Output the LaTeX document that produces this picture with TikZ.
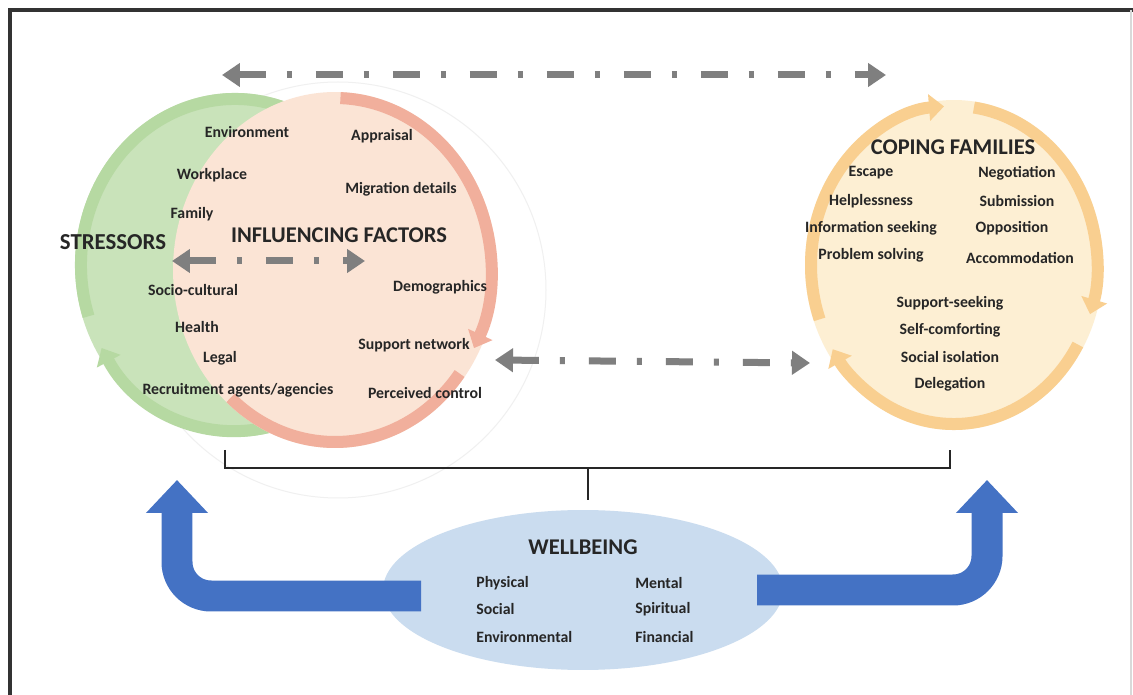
\documentclass[tikz,border=0pt]{standalone}
\usepackage{fontspec}
\setmainfont{Carlito}
\usetikzlibrary{arrows.meta,shapes.geometric}
\definecolor{stressfill}{HTML}{C9E3BA}
\definecolor{stressring}{HTML}{B6D9A2}
\definecolor{inflfill}{HTML}{FBE4D5}
\definecolor{inflring}{HTML}{F1AF9C}
\definecolor{copefill}{HTML}{FDEFD3}
\definecolor{copering}{HTML}{F9CF90}
\definecolor{wellfill}{HTML}{CADCEF}
\definecolor{bigblue}{HTML}{4472C4}
\definecolor{dashgray}{HTML}{7F7F7F}
\definecolor{inkgray}{HTML}{262626}
\tikzset{
	lbl/.style={font=\bfseries\fontsize{9}{10}\selectfont, text=inkgray, inner sep=0pt},
	head/.style={font=\bfseries\fontsize{12.8}{14}\selectfont, text=inkgray, inner sep=0pt},
	ring/.style={line width=0.24cm, line cap=butt},
	ringtip/.style={-{Triangle[length=0.3cm,width=0.52cm]}},
	dashdot/.style={dashgray, line width=0.14cm, dash pattern=on 0.54cm off 0.42cm on 0.1cm off 0.48cm,
		{Triangle[length=0.36cm,width=0.46cm]}-{Triangle[length=0.36cm,width=0.46cm]}},
	bigarrow/.style={bigblue, line width=0.62cm, rounded corners=0.68cm, -{Triangle[length=0.66cm,width=1.2cm]}},
	bracket/.style={black!85, line width=0.05cm}
}
\begin{document}
\begin{tikzpicture}[x=0.02cm,y=-0.02cm]
	\useasboundingbox (0,0) rectangle (1133,695);
	\fill[white] (0,0) rectangle (1133,695);
	\draw[black!80, line width=0.07cm] (10,695) -- (10,10) -- (1133,10);
	\draw[black!15, line width=0.03cm] (1131,10) -- (1131,695);
	\draw[black!6, line width=0.02cm] (338,290) circle[radius=208];

	\node[ellipse, fill=stressfill, minimum width=6.4cm, minimum height=6.88cm, inner sep=0pt] (stress) at (235,265) {};
	\draw[ring, stressring, ringtip] (stress.center) ++(162:154 and 166) arc[start angle=162, end angle=510, x radius=154, y radius=166];
	\node[ellipse, fill=inflfill, minimum width=6.48cm, minimum height=7.12cm, inner sep=0pt] (infl) at (335,270) {};
	\draw[ring, inflring, ringtip] (infl.center) ++(272:156 and 172) arc[start angle=272, end angle=387, x radius=156, y radius=172];
	\draw[ring, inflring] (infl.center) ++(397:156 and 172) arc[start angle=397, end angle=492, x radius=156, y radius=172];
	\node[ellipse, fill=copefill, minimum width=5.96cm, minimum height=6.6cm, inner sep=0pt] (cope) at (954,265) {};
	\foreach \a/\b in {160/266, 278/378, 390/508}
		\draw[ring, copering, ringtip] (cope.center) ++(\a:143 and 159) arc[start angle=\a, end angle=\b, x radius=143, y radius=159];

	\node[head, font=\bfseries\fontsize{13}{14}\selectfont] (stressors) at (113,242) {STRESSORS};
	\node[head] (influencing) at (339,235) {INFLUENCING FACTORS};
	\node[head] (coping) at (953,147) {COPING FAMILIES};
	\foreach \t/\x/\y [count=\i] in {Environment/247/132, Workplace/212/175, Family/192/214, Socio-cultural/193/290, Health/197/327, Legal/220/358}
		\node[lbl] (s\i) at (\x,\y) {\t};
	\node[lbl] (s7) at (238,390) {Recruitment agents/agencies};
	\foreach \t/\x/\y [count=\i] in {Appraisal/382/136, Migration details/401/189, Demographics/440/287, Support network/414/345, Perceived control/425/393}
		\node[lbl] (f\i) at (\x,\y) {\t};
	\foreach \t/\y [count=\i] in {Escape/173, Helplessness/201, Information seeking/228, Problem solving/255}
		\node[lbl] (cl\i) at (871,\y) {\t};
	\foreach \t/\x/\y [count=\i] in {Negotiation/1017/173, Submission/1017/201, Opposition/1012/228, Accommodation/1020/258}
		\node[lbl] (cr\i) at (\x,\y) {\t};
	\foreach \t/\y [count=\i] in {Support-seeking/303, Self-comforting/330, Social isolation/357, Delegation/384}
		\node[lbl] (cb\i) at (950,\y) {\t};

	\coordinate (topL) at (222,75);
	\coordinate (topR) at (886,75);
	\coordinate (midL) at (172,261);
	\coordinate (midR) at (365,261);
	\coordinate (lowL) at (495,360);
	\coordinate (lowR) at (810,363);
	\draw[dashdot] (topL) -- (topR);
	\draw[dashdot] (midL) -- (midR);
	\draw[dashdot] (lowL) -- (lowR);

	\node[ellipse, fill=wellfill, minimum width=8cm, minimum height=3.2cm, inner sep=0pt] (well) at (583,590) {};
	\coordinate (brL) at (225,450);
	\coordinate (brR) at (950,450);
	\coordinate (brM) at (588,468);
	\draw[bracket] (brL) -- (brL |- brM) -- (brR |- brM) -- (brR);
	\draw[bracket] (brM) -- ([yshift=0.2cm]brM |- well.north);

	\coordinate (armL) at (421,596);
	\coordinate (tipL) at (177,480);
	\coordinate (armR) at (757,590);
	\coordinate (tipR) at (987,480);
	\draw[bigarrow] (armL) -- (armL -| tipL) -- (tipL);
	\draw[bigarrow] (armR) -- (armR -| tipR) -- (tipR);

	\node[head] (wellbeing) at (583,547) {WELLBEING};
	\foreach \t/\y [count=\i] in {Physical/583, Social/609, Environmental/637}
		\node[lbl, anchor=west] (wl\i) at (476,\y) {\t};
	\foreach \t/\y [count=\i] in {Mental/583, Spiritual/609, Financial/637}
		\node[lbl, anchor=west] (wr\i) at (635,\y) {\t};
\end{tikzpicture}
\end{document}
